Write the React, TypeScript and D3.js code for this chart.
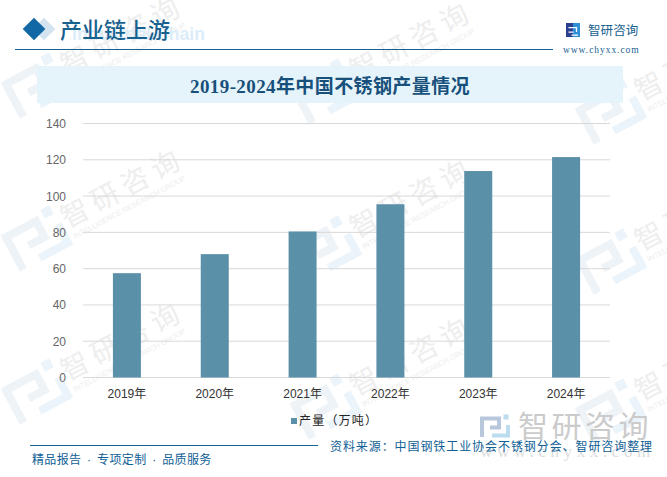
import { useEffect, useRef } from 'react';
import * as d3 from 'd3';

const years = ['2019年', '2020年', '2021年', '2022年', '2023年', '2024年'];
const output = [57.5, 68, 80.5, 95.5, 113.8, 121.5];
const yTicks = [0, 20, 40, 60, 80, 100, 120, 140];
const seriesName = '产量（万吨）';
// logo centre of each tilted watermark
const marks: [number, number][] = [
  [37, 87], [37, 240], [37, 393],
  [326, 93], [326, 250], [326, 408],
  [611, 113], [611, 263], [611, 413],
];

const serif = '"Liberation Serif", "Noto Sans CJK SC", serif';
const sans = '"Liberation Sans", "Noto Sans CJK SC", sans-serif';
const blue = '#0f6096';
const navy = '#17618f';

type G = d3.Selection<SVGGElement, unknown, null, undefined>;

function drawLogo(g: G, left: string, right: string) {
  g.append('path').attr('d', 'M-26,20 V-17 H8 V1 H-10').attr('fill', 'none').attr('stroke', left).attr('stroke-width', 8);
  g.append('path').attr('d', 'M-6,17 H26 V-4').attr('fill', 'none').attr('stroke', right).attr('stroke-width', 8);
  g.append('rect').attr('x', 17).attr('y', -25).attr('width', 10).attr('height', 10).attr('fill', right);
}

function App() {
  const svgRef = useRef<SVGSVGElement>(null);

  useEffect(() => {
    if (!svgRef.current) return;
    const svg = d3.select(svgRef.current);
    svg.selectAll('*').remove();

    const x = d3.scaleBand().domain(years).range([83, 610]);
    const y = d3.scaleLinear().domain([0, 140]).range([377.5, 123.5]);

    // tilted watermarks
    marks.forEach(([mx, my]) => {
      const g = svg.append('g').attr('transform', 'translate(' + mx + ',' + my + ') rotate(-28)') as unknown as G;
      drawLogo(g, '#eef3f8', '#ebf4fa');
      g.append('text').attr('x', 32).attr('y', 4).attr('font-family', sans).attr('font-size', 28)
        .attr('letter-spacing', 6).attr('fill', '#eeeeee').text('智研咨询');
      g.append('text').attr('x', 34).attr('y', 17).attr('font-family', sans).attr('font-size', 7.5)
        .attr('textLength', 126).attr('fill', '#eeeeee').text('INTELLIGENCE RESEARCH GROUP');
    });

    // big watermark, bottom right
    const big = svg.append('g').attr('transform', 'translate(495,427) scale(0.5)') as unknown as G;
    drawLogo(big, '#b9c7dd', '#bcdcf0');
    svg.append('text').attr('x', 518).attr('y', 437).attr('font-family', sans).attr('font-size', 30)
      .attr('letter-spacing', 3.5).attr('fill', '#cbcbcb').text('智研咨询');
    svg.append('text').attr('x', 480).attr('y', 457).attr('font-family', serif).attr('font-size', 17)
      .attr('letter-spacing', 4.6).attr('fill', '#dcdcdc').text('www.chyxx.com');

    // header
    svg.append('rect').attr('x', 36).attr('y', 21).attr('width', 16).attr('height', 16)
      .attr('transform', 'rotate(45 44 29)').attr('fill', '#d3e4f0');
    svg.append('rect').attr('x', 26).attr('y', 21).attr('width', 16).attr('height', 16)
      .attr('transform', 'rotate(45 34 29)').attr('fill', '#1268a5');
    svg.append('text').attr('x', 72).attr('y', 40).attr('font-family', sans).attr('font-weight', 700)
      .attr('font-size', 17.6).attr('fill', '#dcedf9').text('Industrial Chain');
    svg.append('text').attr('x', 60).attr('y', 38).attr('font-family', serif).attr('font-weight', 500)
      .attr('font-size', 22).attr('fill', navy).text('产业链上游');
    svg.append('line').attr('x1', 15).attr('x2', 553).attr('y1', 49.5).attr('y2', 49.5)
      .attr('stroke', navy).attr('stroke-width', 1);

    // brand block
    const brandLogo = svg.append('g').attr('transform', 'translate(573,30) scale(0.25)') as unknown as G;
    brandLogo.append('rect').attr('x', -28).attr('y', -28).attr('width', 28).attr('height', 56).attr('fill', '#2c3f8f');
    brandLogo.append('rect').attr('x', 0).attr('y', -28).attr('width', 28).attr('height', 56).attr('fill', '#2f8fd6');
    brandLogo.append('path').attr('d', 'M-18,-10 H14 V8 M-18,8 H2 M-6,20 H20').attr('fill', 'none').attr('stroke', '#fff').attr('stroke-width', 5);
    svg.append('text').attr('x', 588).attr('y', 34.5).attr('font-family', sans).attr('font-size', 12.5)
      .attr('letter-spacing', 0.1).attr('fill', navy).text('智研咨询');
    svg.append('text').attr('x', 563).attr('y', 53).attr('font-family', serif).attr('font-size', 9.5)
      .attr('letter-spacing', 0.95).attr('fill', navy).text('www.chyxx.com');

    // title band
    svg.append('rect').attr('x', 37).attr('y', 66).attr('width', 586).attr('height', 37).attr('fill', '#e5f3fb');
    svg.append('text').attr('x', 330).attr('y', 93).attr('text-anchor', 'middle').attr('font-family', serif)
      .attr('font-weight', 700).attr('font-size', 19).attr('letter-spacing', 0.4).attr('fill', '#17507a')
      .text('2019-2024年中国不锈钢产量情况');

    // grid + y labels
    svg.append('g').selectAll('line').data(yTicks).join('line')
      .attr('x1', 83).attr('x2', 610).attr('y1', d => y(d)).attr('y2', d => y(d))
      .attr('stroke', '#d9d9d9').attr('stroke-width', 1);
    svg.append('g').selectAll('text').data(yTicks).join('text')
      .attr('x', 66).attr('y', d => y(d) + 4.5).attr('text-anchor', 'end')
      .attr('font-family', sans).attr('font-size', 12).attr('fill', '#666').text(d => d);

    // bars
    const barW = 28;
    svg.append('g').selectAll('rect').data(years).join('rect')
      .attr('x', d => x(d)! + x.bandwidth() / 2 - barW / 2)
      .attr('y', (_, i) => y(output[i]))
      .attr('width', barW)
      .attr('height', (_, i) => y(0) - y(output[i]))
      .attr('fill', '#5b90a9');

    // x labels
    svg.append('g').selectAll('text').data(years).join('text')
      .attr('x', d => x(d)! + x.bandwidth() / 2).attr('y', 398).attr('text-anchor', 'middle')
      .attr('font-family', sans).attr('font-size', 12).attr('fill', '#333').text(d => d);

    // legend
    svg.append('rect').attr('x', 291).attr('y', 418).attr('width', 6).attr('height', 6).attr('fill', '#5b90a9');
    svg.append('text').attr('x', 299).attr('y', 425).attr('font-family', sans).attr('font-size', 12)
      .attr('letter-spacing', 1.2).attr('fill', '#222').text(seriesName);

    // footer
    svg.append('line').attr('x1', 30).attr('x2', 318).attr('y1', 445.5).attr('y2', 445.5).attr('stroke', navy);
    svg.append('text').attr('x', 32).attr('y', 464).attr('font-family', sans).attr('font-size', 12)
      .attr('letter-spacing', 0.35).attr('word-spacing', 2).attr('fill', blue).text('精品报告 · 专项定制 · 品质服务');
    svg.append('text').attr('x', 330).attr('y', 451).attr('font-family', sans).attr('font-size', 12)
      .attr('letter-spacing', 0.92).attr('fill', blue).text('资料来源：中国钢铁工业协会不锈钢分会、智研咨询整理');
  }, []);

  return <svg ref={svgRef} width={667} height={477} style={{ position: 'absolute', left: 0, top: 0 }} />;
}

export default App;
